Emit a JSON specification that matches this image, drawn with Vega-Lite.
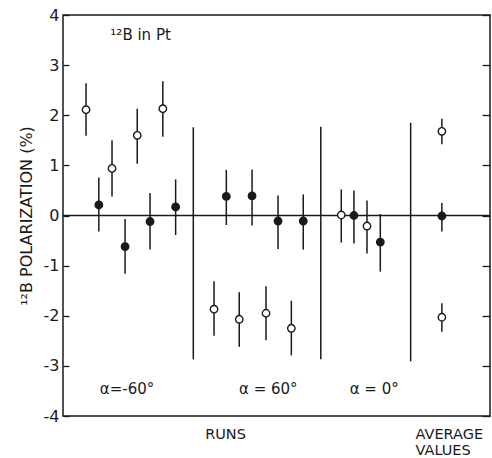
{
  "$schema": "https://vega.github.io/schema/vega-lite/v6.json",
  "width": 427,
  "height": 401,
  "autosize": {"type": "none"},
  "padding": {"left": 63, "top": 15, "right": 2, "bottom": 42},
  "background": "white",
  "config": {
    "view": {"stroke": "#1a1a1a", "strokeWidth": 1.5},
    "font": "DejaVu Sans",
    "axis": {"domainColor": "#1a1a1a", "tickColor": "#1a1a1a", "labelColor": "#1a1a1a", "titleColor": "#1a1a1a", "grid": false}
  },
  "datasets": {
    "pts": [
      {"pos": 1.8, "val": 2.11, "lo": 1.59, "hi": 2.64, "kind": "open"},
      {"pos": 2.8, "val": 0.21, "lo": -0.32, "hi": 0.76, "kind": "filled"},
      {"pos": 3.83, "val": 0.94, "lo": 0.38, "hi": 1.5, "kind": "open"},
      {"pos": 4.85, "val": -0.62, "lo": -1.16, "hi": -0.07, "kind": "filled"},
      {"pos": 5.8, "val": 1.6, "lo": 1.03, "hi": 2.13, "kind": "open"},
      {"pos": 6.8, "val": -0.12, "lo": -0.68, "hi": 0.45, "kind": "filled"},
      {"pos": 7.8, "val": 2.13, "lo": 1.57, "hi": 2.68, "kind": "open"},
      {"pos": 8.8, "val": 0.17, "lo": -0.39, "hi": 0.72, "kind": "filled"},
      {"pos": 11.8, "val": -1.87, "lo": -2.4, "hi": -1.31, "kind": "open"},
      {"pos": 12.76, "val": 0.38, "lo": -0.19, "hi": 0.91, "kind": "filled"},
      {"pos": 13.77, "val": -2.07, "lo": -2.62, "hi": -1.53, "kind": "open"},
      {"pos": 14.77, "val": 0.39, "lo": -0.2, "hi": 0.92, "kind": "filled"},
      {"pos": 15.86, "val": -1.95, "lo": -2.49, "hi": -1.41, "kind": "open"},
      {"pos": 16.8, "val": -0.11, "lo": -0.67, "hi": 0.4, "kind": "filled"},
      {"pos": 17.84, "val": -2.25, "lo": -2.79, "hi": -1.7, "kind": "open"},
      {"pos": 18.77, "val": -0.11, "lo": -0.68, "hi": 0.42, "kind": "filled"},
      {"pos": 21.74, "val": 0.01, "lo": -0.54, "hi": 0.52, "kind": "open"},
      {"pos": 22.73, "val": 0.0, "lo": -0.56, "hi": 0.5, "kind": "filled"},
      {"pos": 23.75, "val": -0.21, "lo": -0.76, "hi": 0.3, "kind": "open"},
      {"pos": 24.79, "val": -0.53, "lo": -1.12, "hi": 0.03, "kind": "filled"},
      {"pos": 29.6, "val": 1.68, "lo": 1.42, "hi": 1.93, "kind": "open"},
      {"pos": 29.6, "val": -0.01, "lo": -0.32, "hi": 0.25, "kind": "filled"},
      {"pos": 29.6, "val": -2.03, "lo": -2.32, "hi": -1.75, "kind": "open"}
    ],
    "seps": [
      {"pos": 10.18, "lo": -2.87, "hi": 1.76},
      {"pos": 20.14, "lo": -2.87, "hi": 1.77},
      {"pos": 27.16, "lo": -2.91, "hi": 1.85}
    ],
    "labels": [
      {"pos": 3.7, "val": 3.6, "text": "¹²B  in  Pt"},
      {"pos": 2.88, "val": -3.47, "text": "α=-60°"},
      {"pos": 13.75, "val": -3.47, "text": "α = 60°"},
      {"pos": 22.4, "val": -3.47, "text": "α = 0°"}
    ]
  },
  "layer": [
    {
      "data": {"values": [{"val": 0}]},
      "mark": {"type": "rule", "color": "#1a1a1a", "strokeWidth": 1.3},
      "encoding": {
        "y": {"field": "val", "type": "quantitative", "scale": {"domain": [-4, 4], "nice": false},
          "axis": {"orient": "right", "values": [-4, -3, -2, -1, 0, 1, 2, 3, 4], "labels": false, "domain": false, "offset": -8, "tickSize": 8, "tickWidth": 1.3, "title": null}}
      }
    },
    {
      "data": {"name": "seps"},
      "mark": {"type": "rule", "color": "#1a1a1a", "strokeWidth": 1.5},
      "encoding": {
        "x": {"field": "pos", "type": "quantitative", "scale": {"domain": [0, 33.36], "nice": false, "zero": false}, "axis": null},
        "y": {"field": "lo", "type": "quantitative", "axis": null},
        "y2": {"field": "hi"}
      }
    },
    {
      "data": {"name": "pts"},
      "mark": {"type": "rule", "color": "#1a1a1a", "strokeWidth": 1.5},
      "encoding": {
        "x": {"field": "pos", "type": "quantitative", "axis": null},
        "y": {"field": "lo", "type": "quantitative", "axis": null},
        "y2": {"field": "hi"}
      }
    },
    {
      "data": {"name": "pts"},
      "mark": {"type": "point", "shape": "circle", "size": 55, "stroke": "#1a1a1a", "strokeWidth": 1.4, "opacity": 1, "fillOpacity": 1},
      "encoding": {
        "x": {"field": "pos", "type": "quantitative",
          "axis": {"orient": "bottom", "values": [12.66, 27.5], "ticks": false, "domain": false, "title": null,
            "labelExpr": "datum.value > 20 ? ['AVERAGE', 'VALUES'] : 'RUNS'",
            "labelAlign": {"condition": {"test": "datum.value > 20", "value": "left"}, "value": "center"},
            "labelFontSize": 14.5, "labelPadding": 11, "labelLineHeight": 16, "labelFont": "DejaVu Sans"}},
        "y": {"field": "val", "type": "quantitative",
          "axis": {"orient": "left", "values": [-4, -3, -2, -1, 0, 1, 2, 3, 4], "domain": false, "offset": -6, "tickSize": 6, "tickWidth": 1.3,
            "labelExpr": "datum.value < 0 ? '-' + abs(datum.value) : '' + datum.value",
            "labelFontSize": 16, "labelPadding": 4, "labelFont": "DejaVu Sans",
            "title": "¹²B  POLARIZATION (%)", "titleFontSize": 16, "titleFontWeight": "normal", "titlePadding": 9, "titleFont": "DejaVu Sans"}},
        "fill": {"field": "kind", "type": "nominal", "scale": {"domain": ["open", "filled"], "range": ["white", "#1a1a1a"]}, "legend": null}
      }
    },
    {
      "data": {"name": "labels"},
      "mark": {"type": "text", "align": "left", "baseline": "middle", "fontSize": 15, "color": "#1a1a1a", "font": "DejaVu Sans"},
      "encoding": {
        "x": {"field": "pos", "type": "quantitative", "axis": null},
        "y": {"field": "val", "type": "quantitative", "axis": null},
        "text": {"field": "text"}
      }
    }
  ],
  "resolve": {"axis": {"y": "independent", "x": "independent"}}
}
